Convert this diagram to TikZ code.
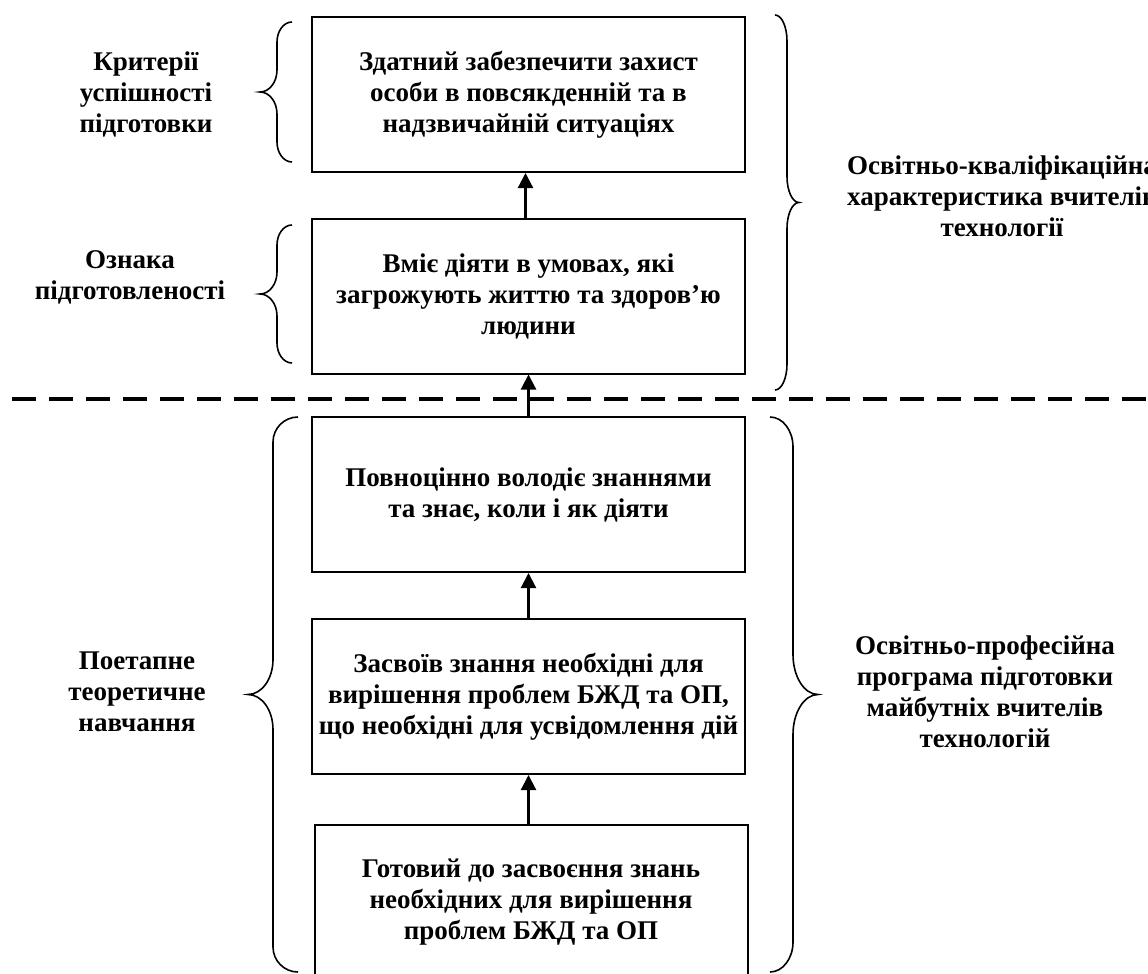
\documentclass[tikz,border=0pt]{standalone}
\usepackage{fontspec}
\setmainfont{Liberation Serif}
\usetikzlibrary{arrows.meta}
% E S T y1 y2 c t : end x, spine x, tip x, top y, bottom y, curl length, tip-curve length
\newcommand{\drawbrace}[7]{%
 \draw[br] (#1,#4) .. controls ({#1-0.552*(#1-#2)},#4) and (#2,{#4+0.448*#6}) .. (#2,{#4+#6})
 -- (#2,{(#4+#5)/2-#7}) .. controls (#2,{(#4+#5)/2-0.448*#7}) and ({#3+0.552*(#2-#3)},{(#4+#5)/2}) .. (#3,{(#4+#5)/2})
 .. controls ({#3+0.552*(#2-#3)},{(#4+#5)/2}) and (#2,{(#4+#5)/2+0.448*#7}) .. (#2,{(#4+#5)/2+#7})
 -- (#2,{#5-#6}) .. controls (#2,{#5-0.448*#6}) and ({#1-0.552*(#1-#2)},#5) .. (#1,#5);%
}
\tikzset{
 box/.style={draw, line width=2pt, minimum width=433pt, minimum height=155pt, align=center, inner sep=0pt, font=\bfseries\fontsize{27}{31}\selectfont},
 lbl/.style={align=center, inner sep=0pt, font=\bfseries\fontsize{27}{31}\selectfont},
 up/.style={line width=2.2pt, -{Triangle[length=15pt,width=15pt]}},
 br/.style={line width=1.6pt},
 divider/.style={line width=4.5pt, dash pattern=on 24pt off 13pt}
}
\begin{document}
\begin{tikzpicture}[x=1pt,y=-1pt]
\useasboundingbox (0,0) rectangle (1148,974);
\fill[white] (0,0) rectangle (1148,974);

\node[box] (b1) at (528.5,94.5) {Здатний забезпечити захист\\особи в повсякденній та в\\надзвичайній ситуаціях};
\node[box] (b2) at (528.5,296) {Вміє діяти в умовах, які\\загрожують життю та здоров’ю\\людини};
\node[box] (b3) at (528.5,494.5) {Повноцінно володіє знаннями\\та знає, коли і як діяти};
\node[box] (b4) at (528.5,696.5) {Засвоїв знання необхідні для\\вирішення проблем БЖД та ОП,\\що необхідні для усвідомлення дій};
\node[box] (b5) at (531,902.5) {Готовий до засвоєння знань\\необхідних для вирішення\\проблем БЖД та ОП};

\draw[up] ([xshift=-3pt]b2.north) -- ([xshift=-3pt]b1.south);
\draw[up] (b3.north) -- (b2.south);
\draw[up] (b4.north) -- (b3.south);
\draw[up] (b5.north -| b4.north) -- (b4.south);

\draw[divider] (12,399) -- (1148,399);

\drawbrace{292}{277}{260}{22}{162}{20}{22}
\drawbrace{292}{277}{260}{225}{363}{20}{22}
\drawbrace{298}{273}{248}{417}{972}{25}{35}
\drawbrace{775}{787}{799}{15}{390}{26}{26}
\drawbrace{770}{793}{818}{417}{972}{30}{40}

\node[lbl] (l1) at (146,94) {Критерії\\успішності\\підготовки};
\node[lbl] (l2) at (130,277) {Ознака\\підготовленості};
\node[lbl] (l3) at (137,692) {Поетапне\\теоретичне\\навчання};
\node[lbl] (r1) at (1002,196) {Освітньо-кваліфікаційна\\характеристика вчителів\\технології};
\node[lbl] (r2) at (985,692) {Освітньо-професійна\\програма підготовки\\майбутніх вчителів\\технологій};
\end{tikzpicture}
\end{document}
